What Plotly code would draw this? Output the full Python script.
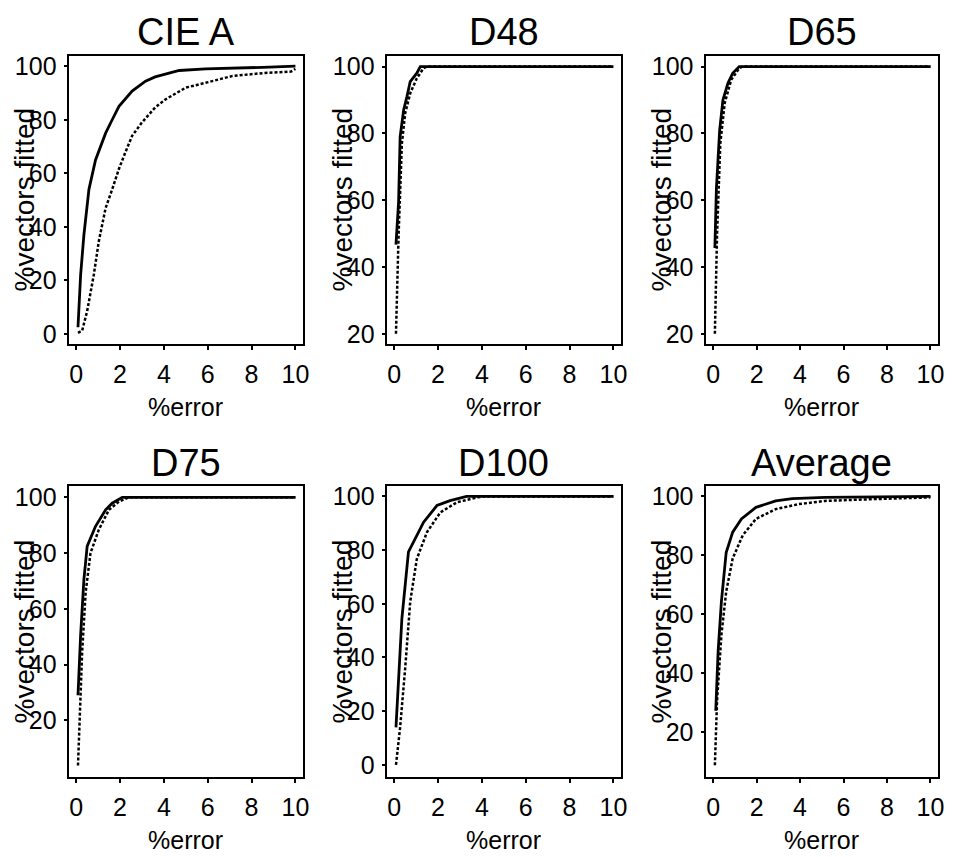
import plotly.graph_objects as go

W, H = 954, 857

# ---------------- data ----------------
titles = ["CIE A", "D48", "D65", "D75", "D100", "Average"]
x_ticks = [0, 2, 4, 6, 8, 10]
y_ticks_full = [0, 20, 40, 60, 80, 100]
y_ticks_20 = [20, 40, 60, 80, 100]

ciea_solid_x = [0.08, 0.2, 0.35, 0.58, 0.88, 1.34, 1.64, 1.95, 2.55, 3.16, 3.6, 4.7, 5.9, 7.1, 8.5, 10.0]
ciea_solid_y = [2.5, 22, 37, 54, 65, 75, 80, 85, 90.7, 94.4, 96, 98.4, 99, 99.4, 99.6, 100]
ciea_dot_x = [0.08, 0.27, 0.5, 0.8, 1.03, 1.34, 1.64, 1.95, 2.25, 2.55, 3.0, 3.6, 4.07, 5.0, 5.9, 7.1, 8.6, 9.8, 10.0]
ciea_dot_y = [0.4, 1.2, 8.6, 22, 34.6, 47, 54, 61.7, 68, 74, 79, 84.6, 87.6, 92, 93.8, 96.3, 97.5, 98, 99]

d48_solid_x = [0.08, 0.2, 0.27, 0.43, 0.58, 0.73, 1.03, 1.19, 10.0]
d48_solid_y = [46.7, 59.5, 79, 87, 91, 95.5, 98, 100, 100]
d48_dot_x = [0.08, 0.2, 0.35, 0.5, 0.73, 1.03, 1.34, 1.5, 10.0]
d48_dot_y = [20, 49.6, 77, 86, 92, 96.5, 99.5, 100, 100]

d65_solid_x = [0.08, 0.15, 0.3, 0.45, 0.68, 0.9, 1.2, 10.0]
d65_solid_y = [45.7, 63.5, 81, 90, 95, 98, 100, 100]
d65_dot_x = [0.08, 0.18, 0.33, 0.53, 0.83, 1.2, 1.36, 10.0]
d65_dot_y = [20, 49.6, 77, 89, 96, 99.5, 100, 100]

d75_solid_x = [0.08, 0.2, 0.35, 0.5, 0.88, 1.34, 1.64, 2.1, 10.0]
d75_solid_y = [29, 50.5, 70.6, 82.5, 89.6, 95.5, 97.9, 100, 100]
d75_dot_x = [0.08, 0.15, 0.27, 0.43, 0.65, 1.03, 1.49, 1.95, 2.4, 10.0]
d75_dot_y = [3.8, 21, 44.6, 66, 80, 88.4, 95.5, 98.5, 100, 100]

d100_solid_x = [0.08, 0.2, 0.35, 0.65, 1.03, 1.34, 1.95, 2.55, 3.3, 10.0]
d100_solid_y = [14, 32.5, 54.6, 79.3, 85.5, 90.4, 96.6, 98.4, 100, 100]
d100_dot_x = [0.08, 0.27, 0.5, 0.73, 1.03, 1.49, 2.1, 2.86, 3.77, 4.07, 10.0]
d100_dot_y = [0, 14, 36, 60.8, 76.7, 86.6, 94, 97.8, 99.6, 100, 100]

avg_solid_x = [0.12, 0.23, 0.38, 0.6, 0.9, 1.3, 1.97, 2.88, 3.64, 5.15, 10.0]
avg_solid_y = [27.3, 47.5, 64.3, 81, 87.9, 92.4, 96.3, 98.5, 99.3, 99.7, 100]
avg_dot_x = [0.08, 0.18, 0.38, 0.6, 0.9, 1.36, 1.97, 2.88, 3.94, 5.15, 7.4, 10.0]
avg_dot_y = [8.8, 30.7, 53, 67.7, 79, 86.8, 92.4, 95.7, 97.4, 98.5, 99.1, 99.7]

series = [
    (ciea_solid_x, ciea_solid_y, ciea_dot_x, ciea_dot_y),
    (d48_solid_x, d48_solid_y, d48_dot_x, d48_dot_y),
    (d65_solid_x, d65_solid_y, d65_dot_x, d65_dot_y),
    (d75_solid_x, d75_solid_y, d75_dot_x, d75_dot_y),
    (d100_solid_x, d100_solid_y, d100_dot_x, d100_dot_y),
    (avg_solid_x, avg_solid_y, avg_dot_x, avg_dot_y),
]
y_ranges = [[-3.7, 104], [17.0, 103.3], [17.0, 103.3], [-0.2, 103.9], [-4.4, 103.7], [4.9, 103.4]]
y_tickvals = [y_ticks_full, y_ticks_20, y_ticks_20, y_ticks_20, y_ticks_full, y_ticks_20]

# ---------------- layout geometry (pixels) ----------------
cols_px = [(69, 305), (389, 625), (710, 944)]
rows_px = [(52, 343), (487, 780)]

FONT = "Liberation Sans, Arial, sans-serif"

def px_x(p):
    return p / W

def px_y(p):
    return 1 - p / H

fig = go.Figure()
layout = {}
annotations = []
for i in range(6):
    r, c = divmod(i, 3)
    x0, x1 = cols_px[c]
    y0, y1 = rows_px[r]
    n = i + 1
    xa = "xaxis" if n == 1 else f"xaxis{n}"
    ya = "yaxis" if n == 1 else f"yaxis{n}"
    xr = "x" if n == 1 else f"x{n}"
    yr = "y" if n == 1 else f"y{n}"
    sx, sy, dx, dy = series[i]
    fig.add_trace(go.Scatter(x=dx, y=dy, mode="lines", xaxis=xr, yaxis=yr,
                             line=dict(color="black", width=2.5, dash="3px,2px"), showlegend=False))
    fig.add_trace(go.Scatter(x=sx, y=sy, mode="lines", xaxis=xr, yaxis=yr,
                             line=dict(color="black", width=2.8), showlegend=False))
    common = dict(showline=True, linecolor="black", linewidth=2, mirror=True,
                  showgrid=False, zeroline=False, ticks="outside", tickcolor="black",
                  tickwidth=1.5, tickfont=dict(family=FONT, size=25, color="black"))
    layout[xa] = dict(domain=[px_x(x0), px_x(x1)], range=[-0.35, 10.35], anchor=yr,
                      tickvals=x_ticks, ticklen=4, ticklabelstandoff=3, **common)
    layout[ya] = dict(domain=[px_y(y1), px_y(y0)], range=y_ranges[i], anchor=xr,
                      tickvals=y_tickvals[i], ticklen=3, ticklabelstandoff=2, **common)
    cx = (x0 + x1) / 2
    # panel title
    annotations.append(dict(text=titles[i], x=px_x(cx), y=px_y(y0 - 24), xref="paper", yref="paper",
                            showarrow=False, xanchor="center", yanchor="middle",
                            font=dict(family=FONT, size=38, color="black")))
    # x axis title
    annotations.append(dict(text="%error", x=px_x(cx), y=px_y(y1 + 64), xref="paper", yref="paper",
                            showarrow=False, xanchor="center", yanchor="middle",
                            font=dict(family=FONT, size=25, color="black")))
    # y axis title
    annotations.append(dict(text="%vectors fitted", x=px_x(x0 - 44), y=px_y((y0 + y1) / 2),
                            xref="paper", yref="paper", showarrow=False, textangle=-90,
                            xanchor="center", yanchor="middle",
                            font=dict(family=FONT, size=28, color="black")))

fig.update_layout(width=W, height=H, margin=dict(l=0, r=0, t=0, b=0),
                  paper_bgcolor="white", plot_bgcolor="white",
                  annotations=annotations, **layout)
fig.write_html("out.html", config={"displayModeBar": False},
               post_script="document.body.style.margin='0';")
